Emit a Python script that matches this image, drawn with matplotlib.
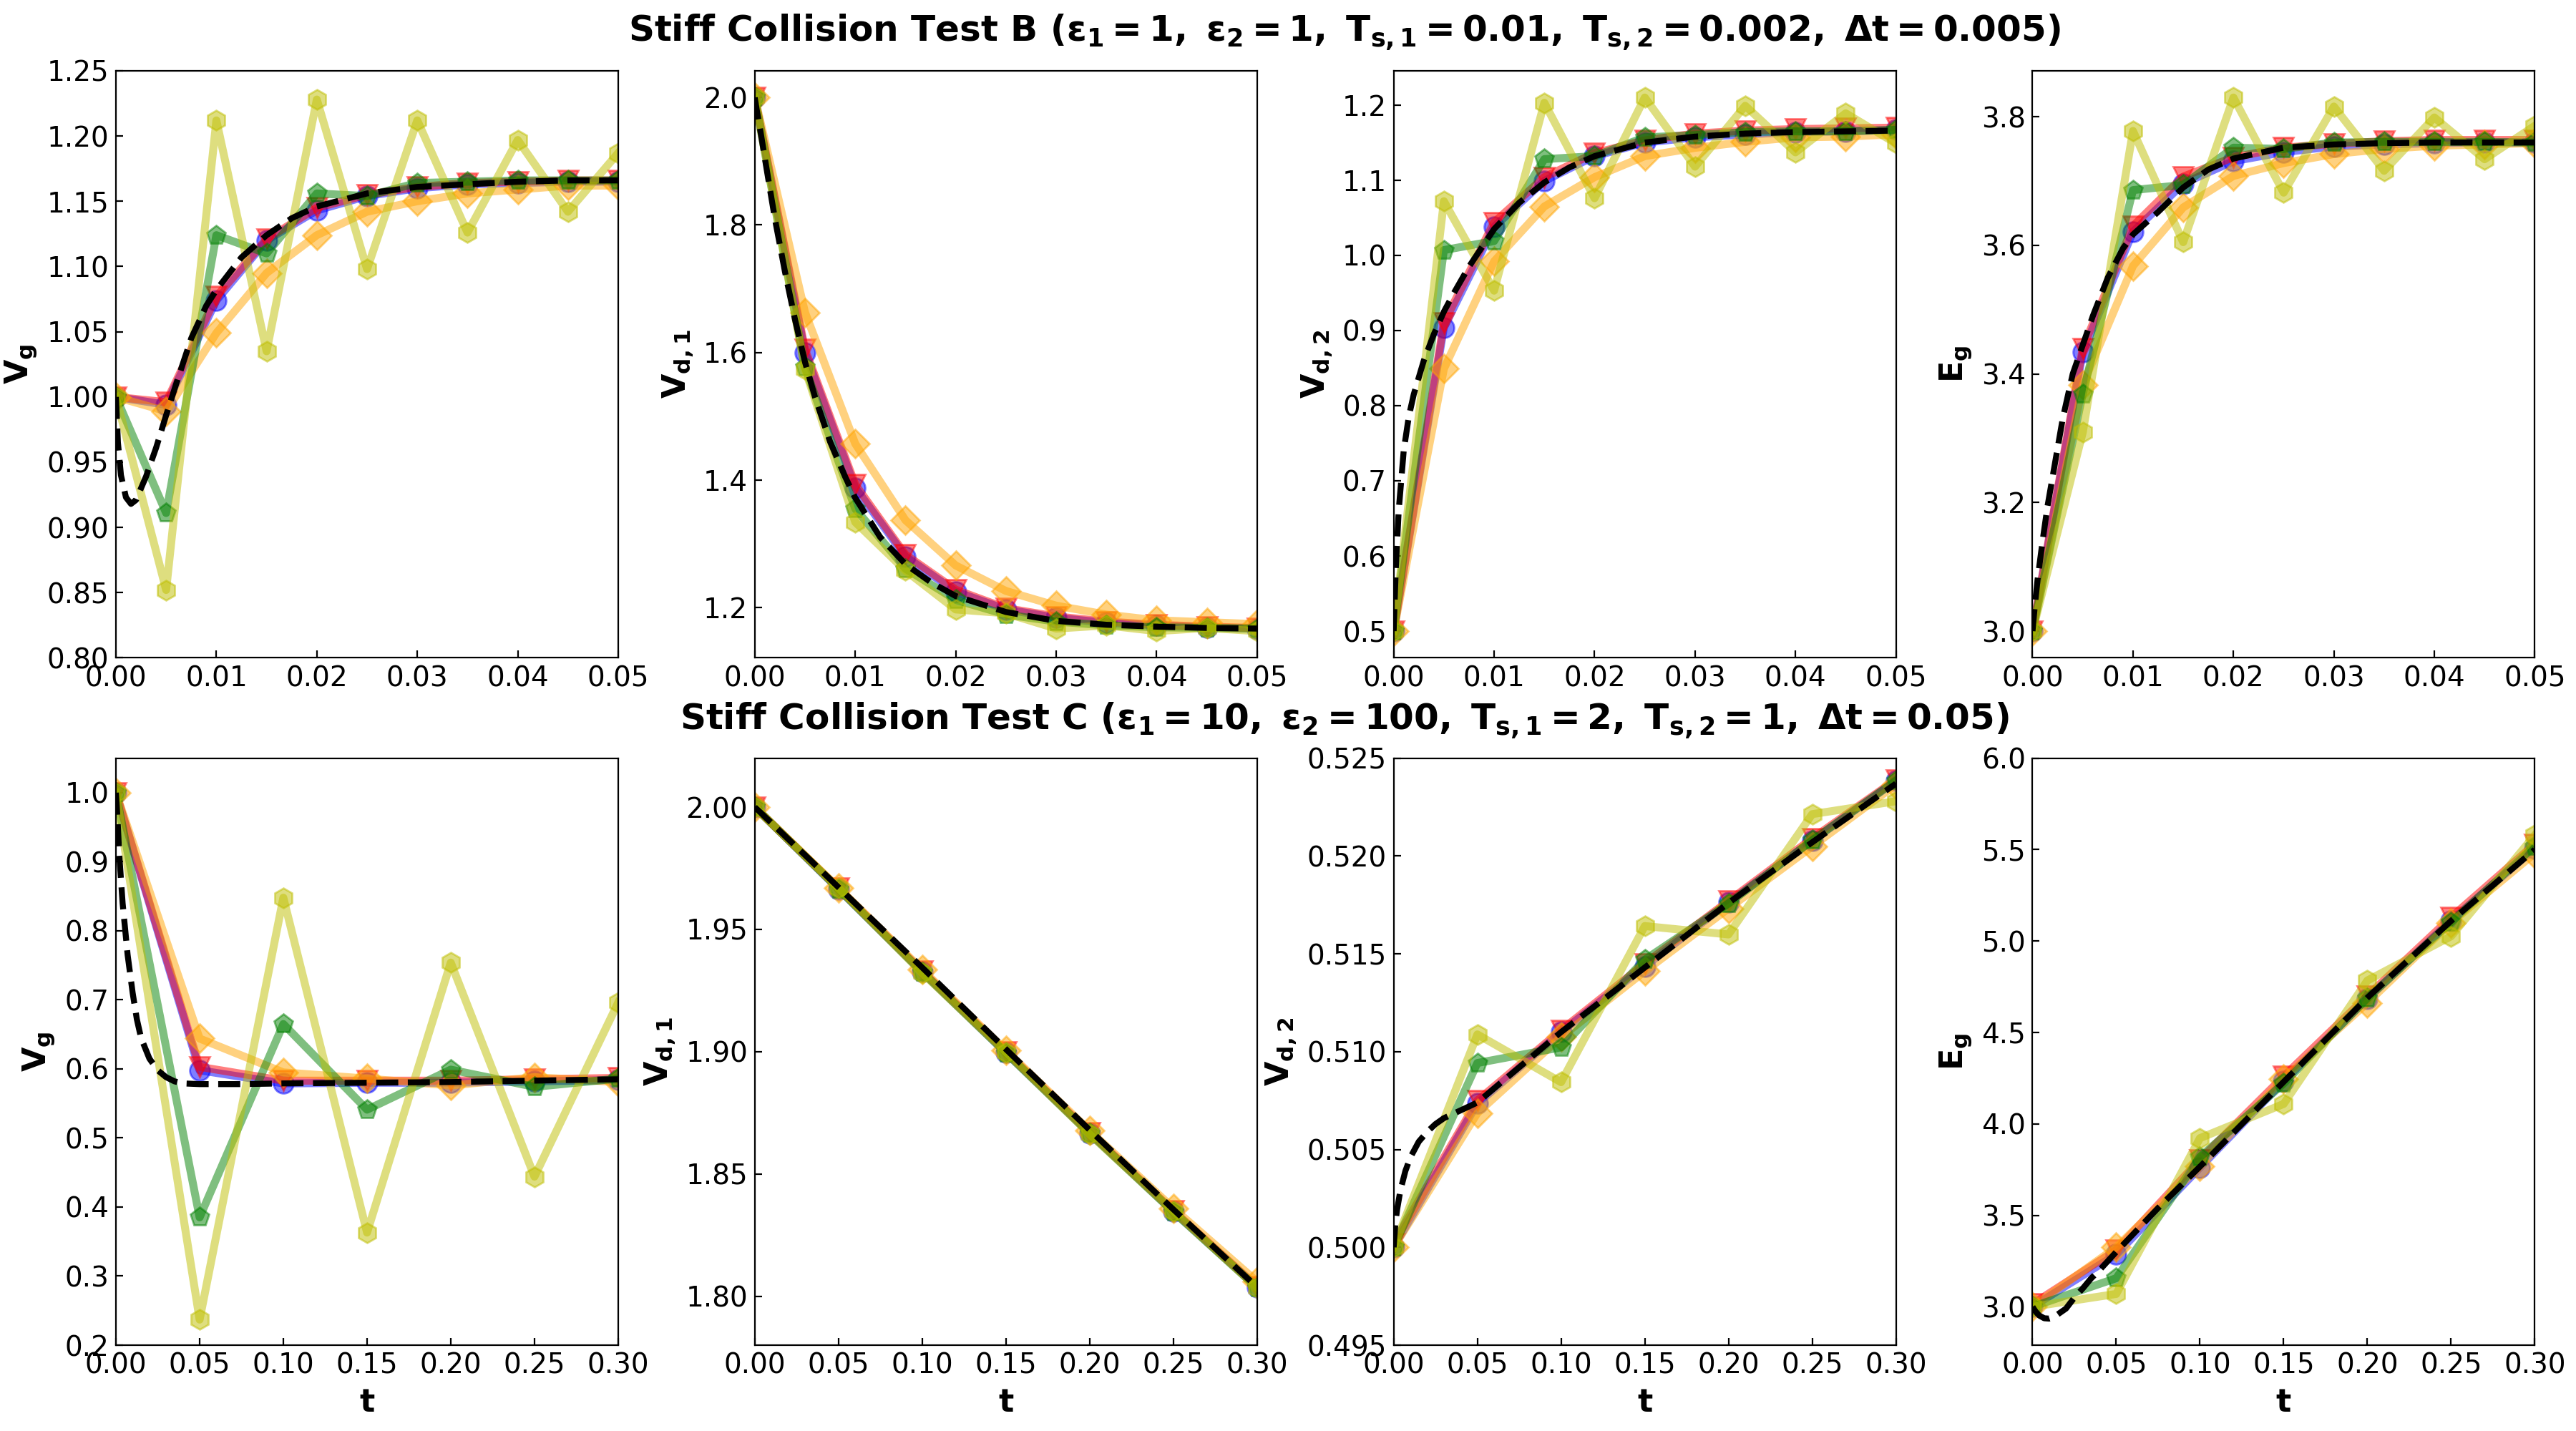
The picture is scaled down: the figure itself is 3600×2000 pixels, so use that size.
#Importa o Matplotlib
import matplotlib
matplotlib.use('Agg')
from matplotlib import pyplot as plt

#Tempos dos esquemas (Teste B e Teste C)
t_B = [0.0, 0.005, 0.01, 0.015, 0.02, 0.025, 0.03, 0.035, 0.04, 0.045, 0.05]
t_C = [0.0, 0.05, 0.10, 0.15, 0.20, 0.25, 0.30]

#Tempos da solucao de referencia (linha tracejada)
t_B_ref = [0.0, 0.0002, 0.0005, 0.001, 0.0015, 0.002, 0.003, 0.004, 0.005, 0.006, 0.0075, 0.009,
           0.01, 0.0125, 0.015, 0.0175, 0.02, 0.025, 0.03, 0.035, 0.04, 0.045, 0.05]
t_C_ref = [0.0, 0.001, 0.002, 0.004, 0.007, 0.01, 0.0125, 0.015, 0.02, 0.025, 0.03, 0.035, 0.04,
           0.05, 0.075, 0.10, 0.15, 0.20, 0.25, 0.30]

#Teste B - V_g
vg_B_blue = [1.000, 0.994, 1.074, 1.120, 1.143, 1.154, 1.160, 1.163, 1.164, 1.165, 1.165]
vg_B_red = [1.000, 0.996, 1.077, 1.121, 1.145, 1.155, 1.161, 1.164, 1.165, 1.166, 1.166]
vg_B_orange = [1.000, 0.989, 1.049, 1.095, 1.124, 1.142, 1.150, 1.156, 1.159, 1.162, 1.162]
vg_B_green = [1.000, 0.911, 1.124, 1.110, 1.156, 1.154, 1.164, 1.165, 1.166, 1.166, 1.166]
vg_B_yellow = [1.000, 0.852, 1.212, 1.035, 1.228, 1.098, 1.212, 1.126, 1.197, 1.142, 1.187]
vg_B_ref = [1.0, 0.965, 0.940, 0.923, 0.918, 0.921, 0.939, 0.961, 0.986, 1.010, 1.045, 1.070,
            1.082, 1.107, 1.124, 1.137, 1.146, 1.156, 1.161, 1.163, 1.165, 1.166, 1.166]

#Teste B - V_d,1
vd1_B_blue = [2.0, 1.600, 1.388, 1.280, 1.225, 1.197, 1.184, 1.176, 1.172, 1.169, 1.167]
vd1_B_red = [2.0, 1.605, 1.393, 1.283, 1.228, 1.199, 1.186, 1.178, 1.173, 1.170, 1.168]
vd1_B_orange = [2.0, 1.663, 1.457, 1.337, 1.266, 1.226, 1.203, 1.189, 1.180, 1.177, 1.174]
vd1_B_green = [2.0, 1.577, 1.355, 1.261, 1.212, 1.189, 1.178, 1.172, 1.169, 1.168, 1.167]
vd1_B_yellow = [2.0, 1.574, 1.334, 1.258, 1.197, 1.191, 1.167, 1.172, 1.163, 1.168, 1.163]
vd1_B_ref = [2.0, 1.980, 1.953, 1.905, 1.857, 1.810, 1.727, 1.652, 1.585, 1.530, 1.460, 1.405,
             1.372, 1.310, 1.268, 1.240, 1.218, 1.193, 1.179, 1.173, 1.170, 1.168, 1.167]

#Teste B - V_d,2
vd2_B_blue = [0.5, 0.904, 1.038, 1.099, 1.132, 1.150, 1.157, 1.161, 1.164, 1.165, 1.167]
vd2_B_red = [0.5, 0.910, 1.044, 1.104, 1.136, 1.153, 1.162, 1.166, 1.168, 1.169, 1.170]
vd2_B_orange = [0.5, 0.849, 0.992, 1.065, 1.104, 1.132, 1.143, 1.151, 1.157, 1.158, 1.161]
vd2_B_green = [0.5, 1.007, 1.019, 1.128, 1.132, 1.157, 1.160, 1.164, 1.165, 1.165, 1.167]
vd2_B_yellow = [0.5, 1.072, 0.953, 1.203, 1.076, 1.210, 1.118, 1.199, 1.137, 1.189, 1.149]
vd2_B_ref = [0.5, 0.580, 0.660, 0.740, 0.785, 0.815, 0.860, 0.895, 0.925, 0.950, 0.985, 1.015,
             1.035, 1.070, 1.097, 1.117, 1.132, 1.150, 1.158, 1.162, 1.164, 1.165, 1.166]

#Teste B - E_g
eg_B_blue = [3.0, 3.434, 3.621, 3.696, 3.731, 3.745, 3.754, 3.757, 3.759, 3.760, 3.760]
eg_B_red = [3.0, 3.440, 3.630, 3.707, 3.737, 3.752, 3.758, 3.762, 3.764, 3.764, 3.764]
eg_B_orange = [3.0, 3.383, 3.568, 3.659, 3.708, 3.728, 3.742, 3.750, 3.755, 3.757, 3.759]
eg_B_green = [3.0, 3.369, 3.686, 3.694, 3.752, 3.750, 3.760, 3.761, 3.761, 3.761, 3.760]
eg_B_yellow = [3.0, 3.309, 3.778, 3.605, 3.830, 3.682, 3.816, 3.716, 3.799, 3.734, 3.786]
eg_B_ref = [3.0, 3.035, 3.080, 3.140, 3.195, 3.240, 3.330, 3.400, 3.445, 3.490, 3.550, 3.595,
            3.617, 3.652, 3.690, 3.718, 3.735, 3.752, 3.757, 3.759, 3.760, 3.760, 3.760]

#Teste C - V_g
vg_C_blue = [1.0, 0.598, 0.579, 0.580, 0.580, 0.582, 0.584]
vg_C_red = [1.0, 0.603, 0.583, 0.583, 0.583, 0.585, 0.587]
vg_C_orange = [1.0, 0.644, 0.595, 0.586, 0.576, 0.588, 0.581]
vg_C_green = [1.0, 0.385, 0.665, 0.541, 0.599, 0.574, 0.586]
vg_C_yellow = [1.0, 0.237, 0.848, 0.363, 0.754, 0.444, 0.696]
vg_C_ref = [1.0, 0.960, 0.910, 0.840, 0.765, 0.710, 0.672, 0.645, 0.615, 0.598, 0.588, 0.582,
            0.579, 0.578, 0.578, 0.579, 0.580, 0.581, 0.583, 0.585]

#Teste C - V_d,1
vd1_C_blue = [2.0, 1.9665, 1.9326, 1.8996, 1.8667, 1.8347, 1.8037]
vd1_C_red = [2.0, 1.9668, 1.9330, 1.9000, 1.8670, 1.8350, 1.8040]
vd1_C_orange = [2.0, 1.9670, 1.9335, 1.9005, 1.8677, 1.8360, 1.8060]
vd1_C_green = [2.0, 1.9665, 1.9325, 1.8995, 1.8665, 1.8345, 1.8035]
vd1_C_yellow = [2.0, 1.9668, 1.9322, 1.8998, 1.8663, 1.8348, 1.8035]
vd1_C_ref = [2.0, 1.9993, 1.9987, 1.9974, 1.9954, 1.9935, 1.9918, 1.9902, 1.9869, 1.9836,
             1.9804, 1.9771, 1.9738, 1.9672, 1.9508, 1.9344, 1.9010, 1.8680, 1.8355, 1.8037]

#Teste C - V_d,2
vd2_C_blue = [0.5000, 0.50735, 0.5110, 0.51436, 0.51762, 0.52078, 0.52384]
vd2_C_red = [0.5002, 0.5075, 0.5111, 0.5145, 0.5177, 0.5209, 0.5239]
vd2_C_orange = [0.5000, 0.50686, 0.51075, 0.51411, 0.51732, 0.52049, 0.52365]
vd2_C_green = [0.5000, 0.50942, 0.51022, 0.5147, 0.51757, 0.5208, 0.52385]
vd2_C_yellow = [0.5000, 0.51088, 0.50844, 0.51642, 0.51599, 0.52214, 0.5228]
vd2_C_ref = [0.5, 0.5012, 0.5019, 0.5029, 0.5039, 0.5046, 0.5050, 0.5054, 0.5059, 0.5063,
             0.5066, 0.5068, 0.5070, 0.5074, 0.5092, 0.5110, 0.5143, 0.5176, 0.5207, 0.5237]

#Teste C - E_g
eg_C_blue = [3.0, 3.286, 3.761, 4.234, 4.683, 5.112, 5.506]
eg_C_red = [3.015, 3.310, 3.805, 4.260, 4.700, 5.130, 5.530]
eg_C_orange = [3.0, 3.325, 3.770, 4.247, 4.662, 5.100, 5.480]
eg_C_green = [3.0, 3.156, 3.818, 4.221, 4.688, 5.104, 5.519]
eg_C_yellow = [3.0, 3.070, 3.922, 4.109, 4.784, 5.026, 5.579]
eg_C_ref = [3.0, 2.985, 2.972, 2.952, 2.937, 2.935, 2.942, 2.958, 2.990, 3.050, 3.100, 3.155,
            3.200, 3.300, 3.540, 3.766, 4.230, 4.690, 5.110, 5.500]

#Configuracao das fontes (texto e math em negrito)
plt.rcParams['mathtext.default'] = 'bf'
plt.rcParams['font.family'] = ['DejaVu Sans']

#Estilo de cada esquema: (cor, marcador)
estilos = [('b', 'o'), ('r', 'v'), ('orange', 'D'), ('g', 'p'), ('y', 'h')]

#Paineis: (linha, coluna, tempos, series, tempos_ref, ref, ylabel, ylim)
paineis = [
    (0, 0, t_B, [vg_B_blue, vg_B_red, vg_B_orange, vg_B_green, vg_B_yellow], t_B_ref, vg_B_ref, r'$V_g$', (0.80, 1.25)),
    (0, 1, t_B, [vd1_B_blue, vd1_B_red, vd1_B_orange, vd1_B_green, vd1_B_yellow], t_B_ref, vd1_B_ref, r'$V_{d,1}$', None),
    (0, 2, t_B, [vd2_B_blue, vd2_B_red, vd2_B_orange, vd2_B_green, vd2_B_yellow], t_B_ref, vd2_B_ref, r'$V_{d,2}$', None),
    (0, 3, t_B, [eg_B_blue, eg_B_red, eg_B_orange, eg_B_green, eg_B_yellow], t_B_ref, eg_B_ref, r'$E_g$', None),
    (1, 0, t_C, [vg_C_blue, vg_C_red, vg_C_orange, vg_C_green, vg_C_yellow], t_C_ref, vg_C_ref, r'$V_g$', (0.2, 1.05)),
    (1, 1, t_C, [vd1_C_blue, vd1_C_red, vd1_C_orange, vd1_C_green, vd1_C_yellow], t_C_ref, vd1_C_ref, r'$V_{d,1}$', (1.78, 2.02)),
    (1, 2, t_C, [vd2_C_blue, vd2_C_red, vd2_C_orange, vd2_C_green, vd2_C_yellow], t_C_ref, vd2_C_ref, r'$V_{d,2}$', (0.495, 0.525)),
    (1, 3, t_C, [eg_C_blue, eg_C_red, eg_C_orange, eg_C_green, eg_C_yellow], t_C_ref, eg_C_ref, r'$E_g$', (2.79, 6.0)),
]

fig, axes = plt.subplots(2, 4, figsize=(18, 10), dpi=200)
plt.subplots_adjust(left=0.045, right=0.984, bottom=0.06, top=0.9505, wspace=0.272, hspace=0.171)

for (lin, col, tt, series, tref, ref, ylab, ylim) in paineis:
    ax = axes[lin, col]
    #Esquemas numericos
    for (cor, marc), vals in zip(estilos, series):
        ax.plot(tt, vals, color=cor, marker=marc, markersize=10, linewidth=4, alpha=0.5)
    #Solucao de referencia
    ax.plot(tref, ref, 'k--', linewidth=3)
    ax.set_xlim(tt[0], tt[-1])
    if ylim is not None:
        ax.set_ylim(ylim)
    ax.set_ylabel(ylab, fontsize=16, fontweight='bold')
    if lin == 1:
        ax.set_xlabel('t', fontsize=16, fontweight='bold')
    ax.tick_params(direction='in', labelsize=14)

#Titulos de cada linha
fig.text(0.522, 0.9709, r'Stiff Collision Test B ($\epsilon_1 = 1,\ \epsilon_2 = 1,\ T_{s,1} = 0.01,\ T_{s,2} = 0.002,\ \Delta t = 0.005$)',
         ha='center', va='baseline', fontsize=18, fontweight='bold')
fig.text(0.522, 0.4902, r'Stiff Collision Test C ($\epsilon_1 = 10,\ \epsilon_2 = 100,\ T_{s,1} = 2,\ T_{s,2} = 1,\ \Delta t = 0.05$)',
         ha='center', va='baseline', fontsize=18, fontweight='bold')

plt.savefig('out.png', dpi=200)
